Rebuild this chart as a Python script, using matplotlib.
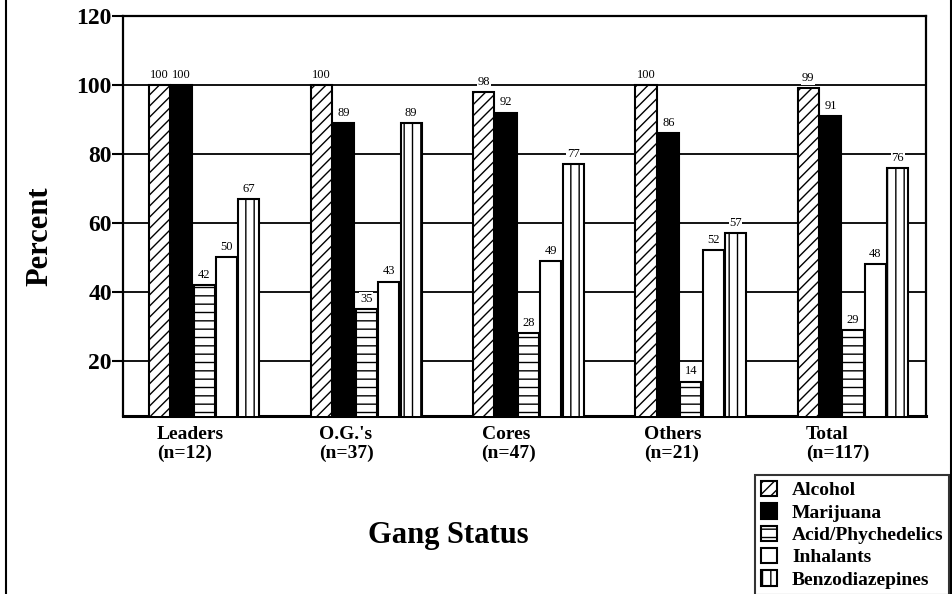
import matplotlib
matplotlib.use("Agg")
import matplotlib.pyplot as plt
import numpy as np
from matplotlib.patches import Patch
from matplotlib.lines import Line2D

# ---- data ----
categories = ["Leaders\n(n=12)", "O.G.'s\n(n=37)", "Cores\n(n=47)", "Others\n(n=21)", "Total\n(n=117)"]
series_names = ["Alcohol", "Marijuana", "Acid/Phychedelics", "Inhalants", "Benzodiazepines"]
alcohol = [100, 100, 98, 100, 99]
marijuana = [100, 89, 92, 86, 91]
acid = [42, 35, 28, 14, 29]
inhalants = [50, 43, 49, 52, 48]
benzo = [67, 89, 77, 57, 76]
yticks = [20, 40, 60, 80, 100, 120]

series_values = [alcohol, marijuana, acid, inhalants, benzo]
faces = ["white", "black", "white", "white", "white"]
hatches = ["///", None, "--", None, "||"]

plt.rcParams["hatch.linewidth"] = 1.0
plt.rcParams["font.family"] = ["Liberation Serif", "DejaVu Serif"]

fig = plt.figure(figsize=(9.53, 5.94), dpi=100)
ax = fig.add_axes([123/953, 1-416/594, (926-123)/953, (416-16)/594])

x = np.arange(len(categories))
width = 0.13
step = 0.138
for i, (name, vals) in enumerate(zip(series_names, series_values)):
    pos = x + (i - 2) * step
    ax.bar(pos, vals, width=width, color=faces[i], edgecolor="black",
           linewidth=1.5, hatch=hatches[i], label=name, zorder=3)
    for p, v in zip(pos, vals):
        ax.annotate(str(v), (p, v), xytext=(0, 3), textcoords="offset points",
                    ha="center", va="bottom", fontsize=9, zorder=4,
                    bbox=dict(boxstyle="square,pad=0.05", fc="white", ec="none"))

ax.set_xlim(-0.5, 4.45)
ax.set_ylim(4, 120)
ax.set_yticks(yticks)
ax.set_yticklabels([str(t) for t in yticks], fontsize=17, fontweight="bold")
ax.tick_params(axis="y", direction="out", length=8, width=1.5, pad=0)
ax.set_xticks([])
ax.yaxis.grid(True, color="black", linewidth=1.3)
ax.set_axisbelow(True)
for s in ax.spines.values():
    s.set_linewidth(1.6)
ax.spines["bottom"].set_linewidth(2.2)

trans = matplotlib.transforms.blended_transform_factory(ax.transData, ax.transAxes)
for xi, lab in zip(x, categories):
    ax.text(xi - 0.29, -0.025, lab, transform=trans, ha="left", va="top",
            fontsize=14, fontweight="bold", linespacing=1.1, multialignment="left")

fig.text(40/953, 1-236/594, "Percent", rotation=90, ha="center", va="center",
         fontsize=22, fontweight="bold")
fig.text(448/953, 1-535/594, "Gang Status", ha="center", va="center",
         fontsize=22, fontweight="bold")

# outer border lines
fig.add_artist(Line2D([6/953, 6/953], [0, 1], transform=fig.transFigure, color="black", lw=1.5))
fig.add_artist(Line2D([951/953, 951/953], [0, 1], transform=fig.transFigure, color="black", lw=1.5))

handles = [Patch(facecolor=faces[i], edgecolor="black", hatch=hatches[i], linewidth=1.5)
           for i in range(len(series_names))]
leg = fig.legend(handles, series_names, loc="upper left",
                 bbox_to_anchor=(755/953, 1-475/594), frameon=True, fancybox=False,
                 edgecolor="black", borderaxespad=0,
                 prop={"family": "Liberation Serif", "weight": "bold", "size": 14},
                 handlelength=0.85, handleheight=0.85, labelspacing=0.2,
                 handletextpad=0.75, borderpad=0.3)
leg.get_frame().set_linewidth(1.5)

fig.savefig("out.png", dpi=100)
